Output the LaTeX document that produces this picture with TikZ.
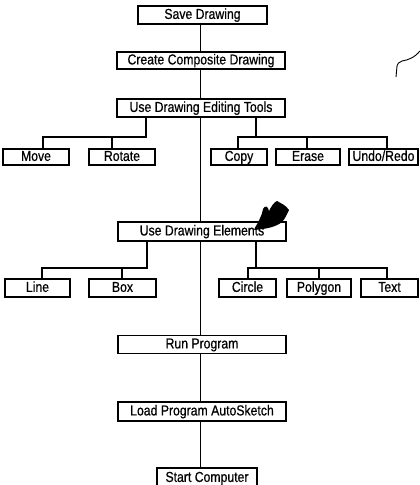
\documentclass[tikz,border=0pt]{standalone}
\usepackage{fontspec}
\setmainfont[FakeStretch=0.85,FakeBold=0.6]{Liberation Sans}
\begin{document}
\begin{tikzpicture}[x=1pt,y=-1pt,
  bx/.style={draw,line width=1.2pt,inner sep=0pt,minimum height=18pt,text height=10.6pt,text depth=2.8pt,font=\fontsize{14.4}{16}\selectfont},
  ln/.style={line width=1.1pt}]
\useasboundingbox (0,0) rectangle (420,485);
% boxes
\node[bx,minimum width=129pt] (save) at (202.5,15) {Save Drawing};
\node[bx,minimum width=168pt,minimum height=17pt] (comp) at (201,60.5) {Create Composite Drawing};
\node[bx,minimum width=168pt] (edit) at (201,108) {Use Drawing Editing Tools};
\node[bx,minimum width=66pt,minimum height=16pt] (move) at (36,157) {Move};
\node[bx,minimum width=66pt,minimum height=16pt] (rotate) at (122,157) {Rotate};
\node[bx,minimum width=56pt,minimum height=16pt] (copy) at (239,157) {Copy};
\node[bx,minimum width=64pt,minimum height=16pt] (erase) at (308,157) {Erase};
\node[bx,minimum width=69pt,minimum height=16pt] (undo) at (383.5,157) {Undo/Redo};
\node[bx,minimum width=168pt,minimum height=19pt] (elem) at (202,231.5) {Use Drawing Elements};
\node[bx,minimum width=65pt] (line) at (37.5,288) {Line};
\node[bx,minimum width=67pt] (box) at (122.5,288) {Box};
\node[bx,minimum width=57pt] (circle) at (247.5,288) {Circle};
\node[bx,minimum width=64pt] (polygon) at (319,288) {Polygon};
\node[bx,minimum width=57pt] (text) at (389.5,288) {Text};
\node[bx,minimum width=168pt] (run) at (202,344.5) {Run Program};
\node[bx,minimum width=168pt,minimum height=19pt] (load) at (202,411.5) {Load Program AutoSketch};
\node[bx,minimum width=100pt,minimum height=20pt] (start) at (207,478) {Start Computer};
% trunk
\coordinate (tr) at (200.5,0);
\draw[ln] (save.south -| tr) -- (comp.north -| tr);
\draw[ln] (comp.south -| tr) -- (edit.north -| tr);
\draw[ln] (edit.south -| tr) -- (elem.north -| tr);
\draw[ln] (elem.south -| tr) -- (run.north -| tr);
\draw[ln] (run.south -| tr) -- (load.north -| tr);
\draw[ln] (load.south -| tr) -- (start.north -| tr);
% editing tools branches
\coordinate (j1) at (146,137); \coordinate (m1) at (43,137); \coordinate (r1) at (112,137);
\draw[ln] (edit.south -| j1) -- (j1) -- (m1) -- (move.north -| m1);
\draw[ln] (r1) -- (rotate.north -| r1);
\coordinate (j2) at (256,137); \coordinate (c1) at (238,137); \coordinate (e1) at (307,137); \coordinate (u1) at (387,137);
\draw[ln] (edit.south -| j2) -- (j2);
\draw[ln] (copy.north -| c1) -- (c1) -- (u1) -- (undo.north -| u1);
\draw[ln] (e1) -- (erase.north -| e1);
% drawing elements branches
\coordinate (j3) at (147,268); \coordinate (l1) at (42,268); \coordinate (b1) at (122,268);
\draw[ln] (elem.south -| j3) -- (j3) -- (l1) -- (line.north -| l1);
\draw[ln] (b1) -- (box.north -| b1);
\coordinate (j4) at (256,268); \coordinate (ci1) at (248,268); \coordinate (p1) at (319,268); \coordinate (t1) at (387,268);
\draw[ln] (elem.south -| j4) -- (j4);
\draw[ln] (circle.north -| ci1) -- (ci1) -- (t1) -- (text.north -| t1);
\draw[ln] (p1) -- (polygon.north -| p1);
% ink blot and pen mark
\fill (254,230) .. controls (258,222) and (262,216) .. (263,209)
  .. controls (265,205) and (268,206) .. (269,211)
  .. controls (271,207) and (274,202) .. (277,201)
  .. controls (280,203) and (286,205) .. (289,210)
  .. controls (287,214) and (285,219) .. (282,222)
  .. controls (276,227) and (266,229) .. (254,230) -- cycle;
\draw[line width=0.9pt] (420,51) .. controls (414,58) and (408,60) .. (402,61) .. controls (399,62) and (397,64) .. (397,66) -- (396,77);
\end{tikzpicture}
\end{document}
